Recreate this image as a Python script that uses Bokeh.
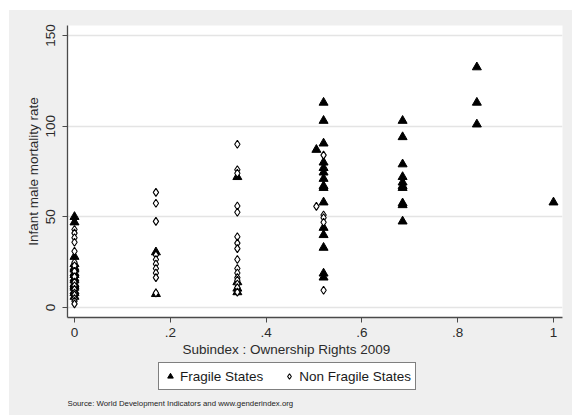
from bokeh.plotting import figure
from bokeh.layouts import column
from bokeh.models import Range1d, FixedTicker, Legend, LegendItem, Title, Label
from bokeh.embed import file_html
from bokeh.resources import INLINE

# ---- data ----
fragile_x = ([0.0] * 16 + [0.17] * 2 + [0.34] * 4 + [0.52] * 15 + [0.505]
             + [0.685] * 10 + [0.84] * 3 + [1.0])
fragile_y = ([50, 47, 28, 24, 22, 21, 19, 18, 16, 15, 13, 12, 11, 9, 8, 6]
             + [30.5, 7.5]
             + [72, 14, 10.5, 8.5]
             + [113, 103, 90.5, 80, 77, 74.5, 71, 67, 66, 58, 44, 40, 33, 18.8, 16.6]
             + [87]
             + [103, 94, 79, 72, 69, 67, 66, 57.5, 56.5, 47.5]
             + [132.5, 113, 101]
             + [58])

nonfragile_x = ([0.0] * 17 + [0.17] * 10 + [0.34] * 16 + [0.52] * 5 + [0.505])
nonfragile_y = ([43, 41, 38.5, 36, 31, 25, 23, 20, 17, 14, 12, 10, 8, 7, 5, 3.5, 2]
                + [63.5, 57.5, 47.5, 29, 26.5, 24, 21.5, 19, 16.5, 8]
                + [90, 76, 74, 56, 52.5, 39, 35.5, 32.5, 26.5, 21.5, 19, 16.5, 15, 13, 11, 8.5]
                + [84, 51, 49.5, 47, 9.5]
                + [55.8])

x_ticks = [0, 0.2, 0.4, 0.6, 0.8, 1.0]
x_tick_labels = ["0", ".2", ".4", ".6", ".8", "1"]
y_ticks = [0, 50, 100, 150]
y_tick_labels = ["0", "50", "100", "150"]
series_names = ["Fragile States", "Non Fragile States"]

FONT = "Liberation Sans"
BG = "#EFEFEF"
TXT = "#2b2b2b"

p = figure(frame_width=495, frame_height=292, output_backend="svg", toolbar_location=None,
           x_range=Range1d(-0.0146, 1.0188), y_range=Range1d(-5.5, 155.5),
           min_border_left=58, min_border_right=10, min_border_top=15,
           min_border_bottom=40)
p.border_fill_color = BG
p.background_fill_color = "white"
p.outline_line_color = None

r_frag = p.scatter(fragile_x, fragile_y, marker="triangle", size=9,
                   fill_color="black", line_color="black")
r_non = p.scatter(nonfragile_x, nonfragile_y, marker="diamond", size=8,
                  fill_color="white", line_color="black", line_width=1.1)

for ax in (p.xaxis[0], p.yaxis[0]):
    ax.axis_line_color = "#4a4a4a"
    ax.axis_line_width = 1.3
    ax.major_tick_line_color = "#4a4a4a"
    ax.major_tick_out = 5
    ax.major_tick_in = 0
    ax.minor_tick_line_color = None
    ax.major_label_text_font = FONT
    ax.major_label_text_font_size = "13.5px"
    ax.major_label_text_color = TXT
    ax.axis_label_text_font = FONT
    ax.axis_label_text_font_size = "13.5px"
    ax.axis_label_text_font_style = "normal"
    ax.axis_label_text_color = TXT

p.xaxis.ticker = FixedTicker(ticks=x_ticks)
p.xaxis.major_label_overrides = dict(zip(x_ticks, x_tick_labels))
p.xaxis.major_label_standoff = 5

p.yaxis.ticker = FixedTicker(ticks=y_ticks)
p.yaxis.major_label_overrides = dict(zip(y_ticks, y_tick_labels))
p.yaxis.major_label_orientation = "vertical"
p.yaxis.major_label_standoff = 7
p.yaxis.axis_label = "Infant male mortality rate"
p.yaxis.axis_label_standoff = 3

p.xgrid.grid_line_color = None
p.ygrid.ticker = FixedTicker(ticks=y_ticks)
p.ygrid.grid_line_color = "#E4E4E4"
p.ygrid.grid_line_width = 1.6

xt = Title(text="Subindex : Ownership Rights 2009", align="left", offset=115,
           text_font=FONT, text_font_size="13.5px", text_font_style="normal",
           text_color=TXT, standoff=0)
p.add_layout(xt, "below")

# ---- legend strip (second figure; its frame is aligned with the main frame) ----
FW, LH = 495, 58
leg = figure(width=563, height=LH, output_backend="svg", toolbar_location=None,
             x_range=Range1d(0, FW), y_range=Range1d(LH, 0),
             x_axis_location=None, y_axis_location=None,
             min_border_left=58, min_border_right=10, min_border_top=0, min_border_bottom=0)
leg.border_fill_color = BG
leg.background_fill_color = BG
leg.outline_line_color = None
leg.grid.grid_line_color = None

nan = float("nan")
g_frag = leg.scatter(x=[nan], y=[nan], marker="triangle", size=9,
                     fill_color="black", line_color="black")
g_non = leg.scatter(x=[nan], y=[nan], marker="diamond", size=8,
                    fill_color="white", line_color="black", line_width=1.1)

legend = Legend(items=[LegendItem(label=series_names[0], renderers=[g_frag]),
                       LegendItem(label=series_names[1], renderers=[g_non])],
                orientation="horizontal", location=(91, 25),
                border_line_color="black", border_line_width=1,
                background_fill_color="white", background_fill_alpha=1,
                label_text_font=FONT, label_text_font_size="13.5px",
                label_text_color="#1a1a1a",
                glyph_width=14, glyph_height=14, label_standoff=3,
                padding=4, spacing=19, label_height=18, margin=0)
leg.add_layout(legend, "center")

src = Label(x=0, y=46, text="Source: World Development Indicators and www.genderindex.org",
            text_font=FONT, text_font_size="7.8px", text_color="#222222",
            text_baseline="middle", text_align="left")
leg.add_layout(src)

layout = column(p, leg, spacing=0, margin=(10, 0, 0, 9), background=BG)

open("out.html", "w").write(file_html(layout, INLINE))
